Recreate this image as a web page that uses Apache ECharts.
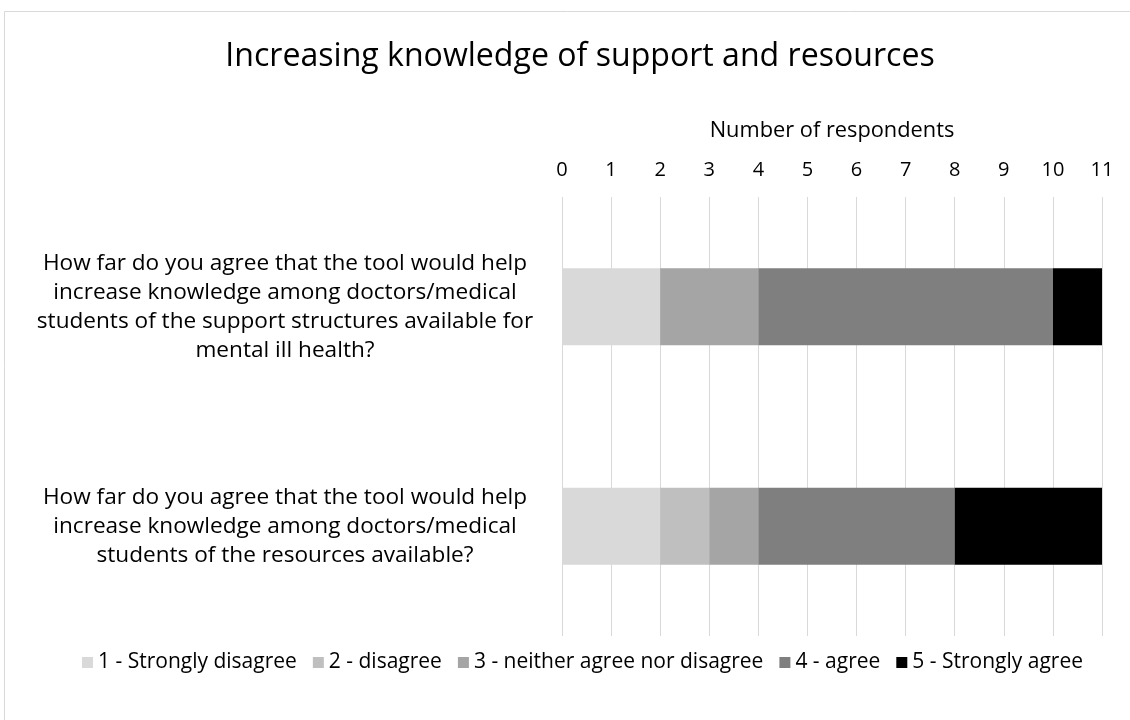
<!DOCTYPE html>
<html><head><meta charset="utf-8">
<script src="https://cdn.jsdelivr.net/npm/echarts@6/dist/echarts.min.js"></script>
<style>html,body{margin:0;padding:0;background:#fff}#c{width:1130px;height:720px}</style>
</head><body><div id="c"></div>
<script>
const categories = [
  "How far do you agree that the tool would help\nincrease knowledge among doctors/medical\nstudents of the support structures available for\nmental ill health?",
  "How far do you agree that the tool would help\nincrease knowledge among doctors/medical\nstudents of the resources available?"
];
const seriesNames = ["1 - Strongly disagree","2 - disagree","3 - neither agree nor disagree","4 - agree","5 - Strongly agree"];
const stronglyDisagree = [2, 2];
const disagree = [0, 1];
const neither = [2, 1];
const agree = [6, 4];
const stronglyAgree = [1, 3];
const colors = ["#d9d9d9","#bfbfbf","#a5a5a5","#7f7f7f","#000000"];
const values = [stronglyDisagree, disagree, neither, agree, stronglyAgree];
const FONT = "Open Sans";

const chart = echarts.init(document.getElementById('c'), null, {renderer:'canvas'});
chart.setOption({
  animation:false,
  textStyle:{fontFamily:FONT},
  title:{text:"Increasing knowledge of support and resources",left:575,textAlign:'center',top:36,
    textStyle:{fontFamily:FONT,fontSize:32.1,fontWeight:'normal',color:'#000'}},
  graphic:[{type:'rect',shape:{x:4.5,y:11.5,width:1140,height:720},style:{fill:'none',stroke:'#d9d9d9',lineWidth:1},silent:true}],
  legend:{bottom:42,left:77,itemWidth:11,itemHeight:11,itemGap:16,icon:'rect',
    textStyle:{fontFamily:FONT,fontSize:21,color:'#000'}},
  grid:{left:562,right:28,top:197,bottom:84},
  xAxis:{type:'value',position:'top',min:0,max:11,interval:1,
    name:'Number of respondents',nameLocation:'middle',nameGap:55,
    nameTextStyle:{fontFamily:FONT,fontSize:21.8,color:'#000'},
    axisLine:{show:false},axisTick:{show:false},
    axisLabel:{fontFamily:FONT,fontSize:20,color:'#000',margin:17},
    splitLine:{show:true,lineStyle:{color:'#d9d9d9',width:1}}},
  yAxis:{type:'category',inverse:true,data:categories,
    axisLine:{show:false},axisTick:{show:false},
    axisLabel:{fontFamily:FONT,fontSize:22.6,color:'#000',align:'center',margin:277,lineHeight:29,padding:[0,0,8,0]}},
  series:seriesNames.map((n,i)=>({name:n,type:'bar',stack:'t',barWidth:'35%',
    data:values[i],itemStyle:{color:colors[i]}}))
});
</script></body></html>
